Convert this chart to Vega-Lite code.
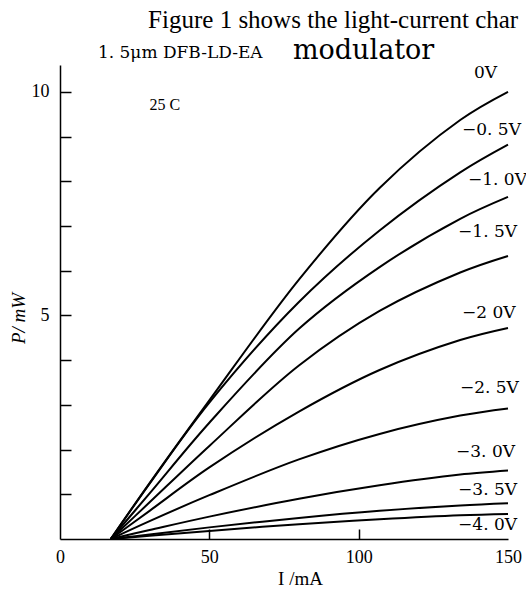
{
  "$schema": "https://vega.github.io/schema/vega-lite/v6.json",
  "width": 448,
  "height": 474,
  "autosize": {"type": "none"},
  "padding": {"left": 60, "top": 65, "right": 18, "bottom": 58},
  "background": "white",
  "config": {"view": {"stroke": null}, "font": "Liberation Serif"},
  "datasets": {
    "curves": [
      {"V": "0V", "I": 17, "P": 0}, {"V": "0V", "I": 30, "P": 1.25}, {"V": "0V", "I": 50, "P": 3.1}, {"V": "0V", "I": 80, "P": 5.8}, {"V": "0V", "I": 107, "P": 7.85}, {"V": "0V", "I": 134, "P": 9.37}, {"V": "0V", "I": 150, "P": 10.0},
      {"V": "-0.5V", "I": 17, "P": 0}, {"V": "-0.5V", "I": 30, "P": 1.24}, {"V": "-0.5V", "I": 50, "P": 3.05}, {"V": "-0.5V", "I": 80, "P": 5.3}, {"V": "-0.5V", "I": 107, "P": 6.9}, {"V": "-0.5V", "I": 134, "P": 8.2}, {"V": "-0.5V", "I": 150, "P": 8.82},
      {"V": "-1.0V", "I": 17, "P": 0}, {"V": "-1.0V", "I": 30, "P": 1.02}, {"V": "-1.0V", "I": 50, "P": 2.6}, {"V": "-1.0V", "I": 80, "P": 4.7}, {"V": "-1.0V", "I": 107, "P": 6.08}, {"V": "-1.0V", "I": 134, "P": 7.16}, {"V": "-1.0V", "I": 150, "P": 7.65},
      {"V": "-1.5V", "I": 17, "P": 0}, {"V": "-1.5V", "I": 30, "P": 0.82}, {"V": "-1.5V", "I": 50, "P": 2.08}, {"V": "-1.5V", "I": 80, "P": 3.88}, {"V": "-1.5V", "I": 107, "P": 5.1}, {"V": "-1.5V", "I": 134, "P": 5.96}, {"V": "-1.5V", "I": 150, "P": 6.33},
      {"V": "-2.0V", "I": 17, "P": 0}, {"V": "-2.0V", "I": 30, "P": 0.63}, {"V": "-2.0V", "I": 50, "P": 1.6}, {"V": "-2.0V", "I": 80, "P": 2.85}, {"V": "-2.0V", "I": 107, "P": 3.78}, {"V": "-2.0V", "I": 134, "P": 4.45}, {"V": "-2.0V", "I": 150, "P": 4.72},
      {"V": "-2.5V", "I": 17, "P": 0}, {"V": "-2.5V", "I": 30, "P": 0.4}, {"V": "-2.5V", "I": 50, "P": 0.98}, {"V": "-2.5V", "I": 80, "P": 1.78}, {"V": "-2.5V", "I": 107, "P": 2.35}, {"V": "-2.5V", "I": 134, "P": 2.76}, {"V": "-2.5V", "I": 150, "P": 2.92},
      {"V": "-3.0V", "I": 17, "P": 0}, {"V": "-3.0V", "I": 30, "P": 0.2}, {"V": "-3.0V", "I": 50, "P": 0.5}, {"V": "-3.0V", "I": 80, "P": 0.9}, {"V": "-3.0V", "I": 107, "P": 1.2}, {"V": "-3.0V", "I": 134, "P": 1.44}, {"V": "-3.0V", "I": 150, "P": 1.53},
      {"V": "-3.5V", "I": 17, "P": 0}, {"V": "-3.5V", "I": 30, "P": 0.1}, {"V": "-3.5V", "I": 50, "P": 0.26}, {"V": "-3.5V", "I": 80, "P": 0.47}, {"V": "-3.5V", "I": 107, "P": 0.63}, {"V": "-3.5V", "I": 134, "P": 0.75}, {"V": "-3.5V", "I": 150, "P": 0.8},
      {"V": "-4.0V", "I": 17, "P": 0}, {"V": "-4.0V", "I": 30, "P": 0.07}, {"V": "-4.0V", "I": 50, "P": 0.18}, {"V": "-4.0V", "I": 80, "P": 0.33}, {"V": "-4.0V", "I": 107, "P": 0.44}, {"V": "-4.0V", "I": 134, "P": 0.53}, {"V": "-4.0V", "I": 150, "P": 0.56}
    ],
    "labels": [
      {"label": "0V", "I": 138.6, "P": 10.42},
      {"label": "−0. 5V", "I": 134.6, "P": 9.15},
      {"label": "−1. 0V", "I": 136.6, "P": 8.03},
      {"label": "−1. 5V", "I": 133.3, "P": 6.87},
      {"label": "−2  0V", "I": 134.6, "P": 5.06},
      {"label": "−2. 5V", "I": 133.9, "P": 3.38},
      {"label": "−3. 0V", "I": 132.6, "P": 1.95},
      {"label": "−3. 5V", "I": 133.3, "P": 1.1},
      {"label": "−4. 0V", "I": 133.3, "P": 0.31}
    ]
  },
  "layer": [
    {
      "data": {"name": "curves"},
      "mark": {"type": "line", "color": "black", "strokeWidth": 2, "interpolate": "catmull-rom"},
      "encoding": {
        "x": {
          "field": "I", "type": "quantitative",
          "scale": {"domain": [0, 150], "nice": false},
          "axis": {
            "values": [0, 50, 100, 150],
            "tickSize": -10,
            "labelPadding": 19,
            "tickColor": "black",
            "tickWidth": 1.5,
            "tickOpacity": {"condition": {"test": "datum.value == 150 || datum.value == 0", "value": 0}, "value": 1},
            "domainColor": "black",
            "domainWidth": 1.5,
            "grid": false,
            "labelFont": "Liberation Serif",
            "labelFontSize": 18,
            "labelColor": "black",
            "labelFlush": false,
            "title": "I /mA",
            "titleFont": "Liberation Serif",
            "titleFontSize": 19,
            "titleFontWeight": "normal",
            "titleColor": "black",
            "titleX": 240,
            "titleY": 39,
            "titleBaseline": "middle"
          }
        },
        "y": {
          "field": "P", "type": "quantitative",
          "scale": {"domain": [0, 10.6], "nice": false},
          "axis": {
            "values": [0, 1, 2, 3, 4, 5, 6, 7, 8, 9, 10],
            "labelExpr": "datum.value == 5 || datum.value == 10 ? datum.label : ''",
            "tickSize": -11,
            "labelPadding": 22,
            "tickColor": "black",
            "tickWidth": 1.5,
            "tickOpacity": {"condition": {"test": "datum.value == 0", "value": 0}, "value": 1},
            "domainColor": "black",
            "domainWidth": 1.5,
            "grid": false,
            "labelFont": "Liberation Serif",
            "labelFontSize": 18,
            "labelColor": "black",
            "title": "P/ mW",
            "titleFont": "Liberation Serif",
            "titleFontStyle": "italic",
            "titleFontSize": 19,
            "titleFontWeight": "normal",
            "titleColor": "black",
            "titleX": -42,
            "titleY": 253,
            "titleAngle": -90,
            "titleAlign": "center",
            "titleBaseline": "middle"
          }
        },
        "detail": {"field": "V", "type": "nominal"}
      }
    },
    {
      "data": {"name": "labels"},
      "mark": {"type": "text", "align": "left", "baseline": "middle", "font": "DejaVu Serif", "fontSize": 17, "color": "black"},
      "encoding": {
        "x": {"field": "I", "type": "quantitative"},
        "y": {"field": "P", "type": "quantitative"},
        "text": {"field": "label"}
      }
    },
    {
      "data": {"values": [{"t": "25 C", "I": 30, "P": 9.71}]},
      "mark": {"type": "text", "align": "left", "baseline": "middle", "font": "Liberation Serif", "fontSize": 16, "color": "black"},
      "encoding": {
        "x": {"field": "I", "type": "quantitative"},
        "y": {"field": "P", "type": "quantitative"},
        "text": {"field": "t"}
      }
    },
    {
      "data": {"values": [{"t": "Figure 1 shows the light-current char", "I": 29.5, "P": 11.43}]},
      "mark": {"type": "text", "align": "left", "baseline": "alphabetic", "font": "Liberation Serif", "fontSize": 25, "color": "black"},
      "encoding": {
        "x": {"field": "I", "type": "quantitative"},
        "y": {"field": "P", "type": "quantitative"},
        "text": {"field": "t"}
      }
    },
    {
      "data": {"values": [{"t": "1. 5μm DFB-LD-EA", "I": 12.7, "P": 10.76}]},
      "mark": {"type": "text", "align": "left", "baseline": "alphabetic", "font": "DejaVu Serif", "fontSize": 17, "color": "black"},
      "encoding": {
        "x": {"field": "I", "type": "quantitative"},
        "y": {"field": "P", "type": "quantitative"},
        "text": {"field": "t"}
      }
    },
    {
      "data": {"values": [{"t": "modulator", "I": 78, "P": 10.74}]},
      "mark": {"type": "text", "align": "left", "baseline": "alphabetic", "font": "DejaVu Serif", "fontSize": 27, "color": "black"},
      "encoding": {
        "x": {"field": "I", "type": "quantitative"},
        "y": {"field": "P", "type": "quantitative"},
        "text": {"field": "t"}
      }
    }
  ]
}
